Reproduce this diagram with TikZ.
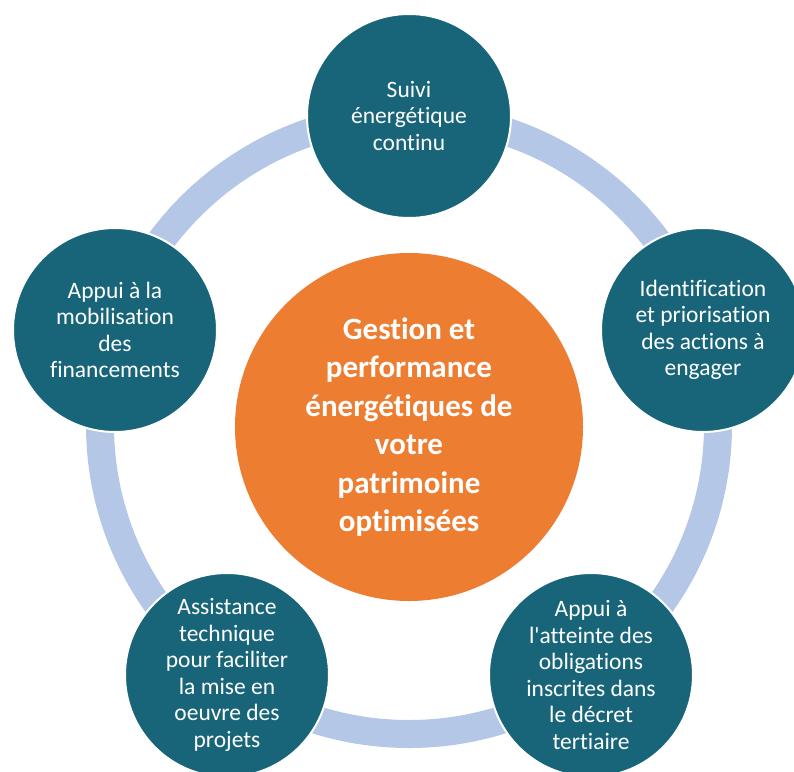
\documentclass[tikz,border=0pt]{standalone}
\usepackage{fontspec}
\setmainfont{Carlito}[Ligatures={TeXOff,NoCommon}]
\definecolor{teal}{RGB}{24,101,122}
\definecolor{orng}{RGB}{237,125,49}
\definecolor{ringblue}{RGB}{180,199,231}
\begin{document}
\begin{tikzpicture}[x=1pt,y=-1pt,
  smallc/.style={circle,fill=teal,draw=white,line width=2pt,minimum size=204pt,inner sep=0pt,
    text=white,align=center,font=\fontsize{23.5}{26.5}\selectfont},
  bigc/.style={circle,fill=orng,minimum size=348pt,inner sep=0pt,
    text=white,align=center,font=\fontsize{31}{38.5}\selectfont\bfseries}]
\useasboundingbox (0,0) rectangle (794,771);
\clip (0,0) rectangle (794,771);
\coordinate (c) at (409,425);
\draw[ringblue,line width=28pt] (c) circle[radius=309pt];
\node[bigc] (center) at (409,427) {Gestion et\\performance\\énergétiques de\\votre\\patrimoine\\optimisées};
\node[smallc] (top) at (409,116) {Suivi\\énergétique\\continu};
\node[smallc] (right) at (703,330) {Identification\\et priorisation\\des actions à\\engager};
\node[smallc] (bright) at (591,675) {Appui à\\l'atteinte des\\obligations\\inscrites dans\\le décret\\tertiaire};
\node[smallc] (bleft) at (227,675) {Assistance\\technique\\pour faciliter\\la mise en\\oeuvre des\\projets};
\node[smallc] (left) at (115,330) {Appui à la\\mobilisation\\des\\financements};
\end{tikzpicture}
\end{document}
